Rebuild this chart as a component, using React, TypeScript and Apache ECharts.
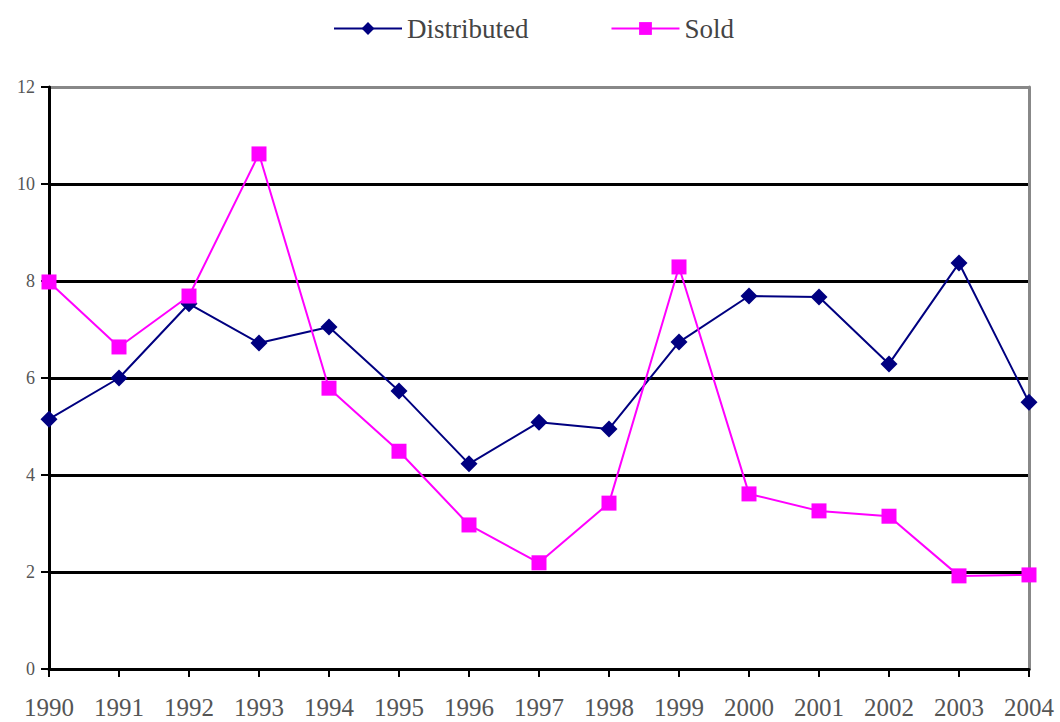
import React, { useEffect, useRef } from "react";
import * as echarts from "echarts";

const years = ["1990", "1991", "1992", "1993", "1994", "1995", "1996", "1997", "1998", "1999", "2000", "2001", "2002", "2003", "2004"];
const distributed = [5.15, 6.0, 7.53, 6.72, 7.05, 5.73, 4.23, 5.09, 4.95, 6.74, 7.69, 7.67, 6.29, 8.37, 5.5];
const sold = [7.98, 6.64, 7.69, 10.62, 5.79, 4.49, 2.97, 2.19, 3.42, 8.29, 3.61, 3.26, 3.15, 1.92, 1.94];
const yTicks = [0, 2, 4, 6, 8, 10, 12];

export default function App() {
  const ref = useRef<HTMLDivElement>(null);
  useEffect(() => {
    if (!ref.current) return;
    const chart = echarts.init(ref.current, null, { renderer: "svg" });
    chart.setOption({
      animation: false,
      backgroundColor: "#ffffff",
      legend: {
        top: 10,
        left: 328,
        itemGap: 82,
        itemWidth: 68,
        itemHeight: 16,
        textStyle: { fontFamily: "Liberation Serif", fontSize: 27, color: "#444" },
        data: ["Distributed", "Sold"],
      },
      grid: { left: 49, right: 31, top: 87, bottom: 53 },
      xAxis: {
        type: "category",
        data: years,
        boundaryGap: false,
        axisLine: { lineStyle: { color: "#000", width: 3 } },
        axisTick: { show: true, inside: false, length: 8, lineStyle: { color: "#000", width: 2 }, interval: 0 },
        axisLabel: { interval: 0, margin: 26, fontFamily: "Liberation Serif", fontSize: 25, color: "#555" },
        splitLine: { show: false },
      },
      yAxis: [
        {
          type: "value",
          min: yTicks[0],
          max: yTicks[yTicks.length - 1],
          interval: 2,
          axisLine: { show: true, lineStyle: { color: "#000", width: 3 } },
          axisTick: { show: true, length: 8, lineStyle: { color: "#000", width: 2 } },
          axisLabel: { margin: 14, fontFamily: "Liberation Serif", fontSize: 18, color: "#555" },
          splitLine: {
            show: true,
            lineStyle: { color: ["#000", "#000", "#000", "#000", "#000", "#000", "#888"], width: 3 },
          },
        },
        {
          type: "value",
          position: "right",
          min: yTicks[0],
          max: yTicks[yTicks.length - 1],
          interval: 2,
          axisLine: { show: true, lineStyle: { color: "#888", width: 3 } },
          axisTick: { show: false },
          axisLabel: { show: false },
          splitLine: { show: false },
        },
      ],
      series: [
        {
          name: "Distributed",
          type: "line",
          data: distributed,
          color: "#000080",
          symbol: "diamond",
          symbolSize: 17,
          lineStyle: { width: 2, color: "#000080" },
          itemStyle: { color: "#000080" },
          z: 3,
        },
        {
          name: "Sold",
          type: "line",
          data: sold,
          color: "#ff00ff",
          symbol: "rect",
          symbolSize: 15,
          lineStyle: { width: 2, color: "#ff00ff" },
          itemStyle: { color: "#ff00ff" },
          z: 4,
        },
      ],
    });
    return () => chart.dispose();
  }, []);
  return <div ref={ref} style={{ position: "absolute", left: 0, top: 0, width: 1060, height: 722 }} />;
}
